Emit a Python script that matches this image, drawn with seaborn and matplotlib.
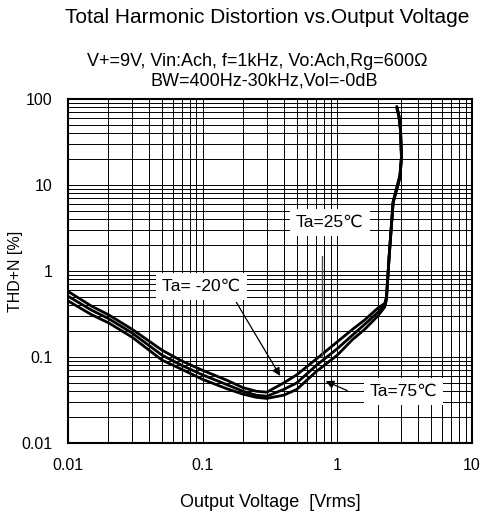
import matplotlib
matplotlib.use("Agg")
import matplotlib.pyplot as plt
import numpy as np
import pandas as pd
import seaborn as sns

# output voltage [Vrms] (same sweep for every curve, last points are the clipping rise)
volts = [0.01, 0.015, 0.02, 0.03, 0.05, 0.07, 0.1, 0.15, 0.2, 0.25, 0.3, 0.4,
         0.5, 0.7, 1.0, 1.3, 1.6, 2.0, 2.25, 2.32, 2.43, 2.6, 2.92, 3.0, 2.95,
         2.87, 2.77]

# THD+N [%]
thd_m20 = [0.58, 0.39, 0.31, 0.21, 0.12, 0.09, 0.07, 0.054, 0.044, 0.04, 0.039,
           0.05, 0.062, 0.095, 0.15, 0.21, 0.27, 0.37, 0.42, 0.5, 1.5, 6.4, 13,
           22, 45, 65, 82]
thd_25 = [0.51, 0.35, 0.28, 0.19, 0.105, 0.08, 0.062, 0.048, 0.04, 0.036, 0.035,
          0.042, 0.05, 0.08, 0.125, 0.18, 0.24, 0.33, 0.4, 0.48, 1.5, 6.3, 12.5,
          21, 44, 64, 80]
thd_75 = [0.45, 0.31, 0.25, 0.17, 0.092, 0.072, 0.055, 0.043, 0.037, 0.034, 0.033,
          0.036, 0.042, 0.068, 0.105, 0.16, 0.21, 0.30, 0.38, 0.46, 1.45, 6.2, 12,
          20, 43, 63, 78]

temps = ["Ta= -20℃", "Ta=25℃", "Ta=75℃"]

frames = []
for name, vals in zip(temps, [thd_m20, thd_25, thd_75]):
    frames.append(pd.DataFrame({"Vo": volts, "THD": vals, "Ta": name}))
df = pd.concat(frames, ignore_index=True)

sns.set_style("white")
plt.rcParams["font.family"] = ["Liberation Sans", "DejaVu Sans", "Noto Sans CJK JP"]
plt.rcParams["text.color"] = "black"
plt.rcParams["axes.labelcolor"] = "black"
plt.rcParams["xtick.color"] = "black"
plt.rcParams["ytick.color"] = "black"

fig = plt.figure(figsize=(4.82, 5.19), dpi=100)
ax = fig.add_axes([0.141, 0.1464, 0.838, 0.6628])

# one line per temperature, kept in sweep order
sns.lineplot(data=df, x="Vo", y="THD", hue="Ta", units="Ta", estimator=None,
             sort=False, palette=["black"] * 3, linewidth=2.0, legend=False, ax=ax,
             zorder=3)

ax.set_xscale("log")
ax.set_yscale("log")
ax.set_xlim(0.01, 10)
ax.set_ylim(0.01, 100)
ax.set_xticks([0.01, 0.1, 1, 10])
ax.set_xticklabels(["0.01", "0.1", "1", "10"])
ax.set_yticks([0.01, 0.1, 1, 10, 100])
ax.set_yticklabels(["0.01", "0.1", "1", "10", "100"])
ax.grid(True, which="both", color="black", linewidth=0.7)
ax.tick_params(which="both", length=0, labelsize=11.5, pad=11)
for s in ax.spines.values():
    s.set_color("black")
    s.set_linewidth(1.5)

ax.set_xlabel("Output Voltage  [Vrms]", fontsize=13, labelpad=15)
ax.set_ylabel("THD+N [%]", fontsize=11.5)
ax.yaxis.set_label_coords(-0.112, 0.5)

fig.text(0.555, 0.967, "Total Harmonic Distortion vs.Output Voltage",
         ha="center", va="center", fontsize=15)
fig.text(0.534, 0.881, "V+=9V, Vin:Ach, f=1kHz, Vo:Ach,Rg=600Ω",
         ha="center", va="center", fontsize=13)
fig.text(0.548, 0.844, "BW=400Hz-30kHz,Vol=-0dB",
         ha="center", va="center", fontsize=13)

box = dict(boxstyle="square,pad=0.35", facecolor="white", edgecolor="none")
ax.text(0.098, 0.66, temps[0], ha="center", va="center", fontsize=12.5, bbox=box, zorder=5)
ax.text(0.88, 3.7, temps[1], ha="center", va="center", fontsize=12.5, bbox=box, zorder=5)
ax.text(3.1, 0.0395, temps[2], ha="center", va="center", fontsize=12.5, bbox=box, zorder=5)

arrow = dict(arrowstyle="-|>", color="black", linewidth=0.9, mutation_scale=12)
ax.annotate("", xy=(0.386, 0.0565), xytext=(0.174, 0.46), arrowprops=arrow, zorder=4)
ax.annotate("", xy=(0.785, 0.054), xytext=(1.24, 0.0395), arrowprops=arrow, zorder=4)
ax.plot([0.77, 0.77], [0.1, 1.49], color="0.3", linewidth=1.0, zorder=4)

fig.savefig("out.png", dpi=100)
